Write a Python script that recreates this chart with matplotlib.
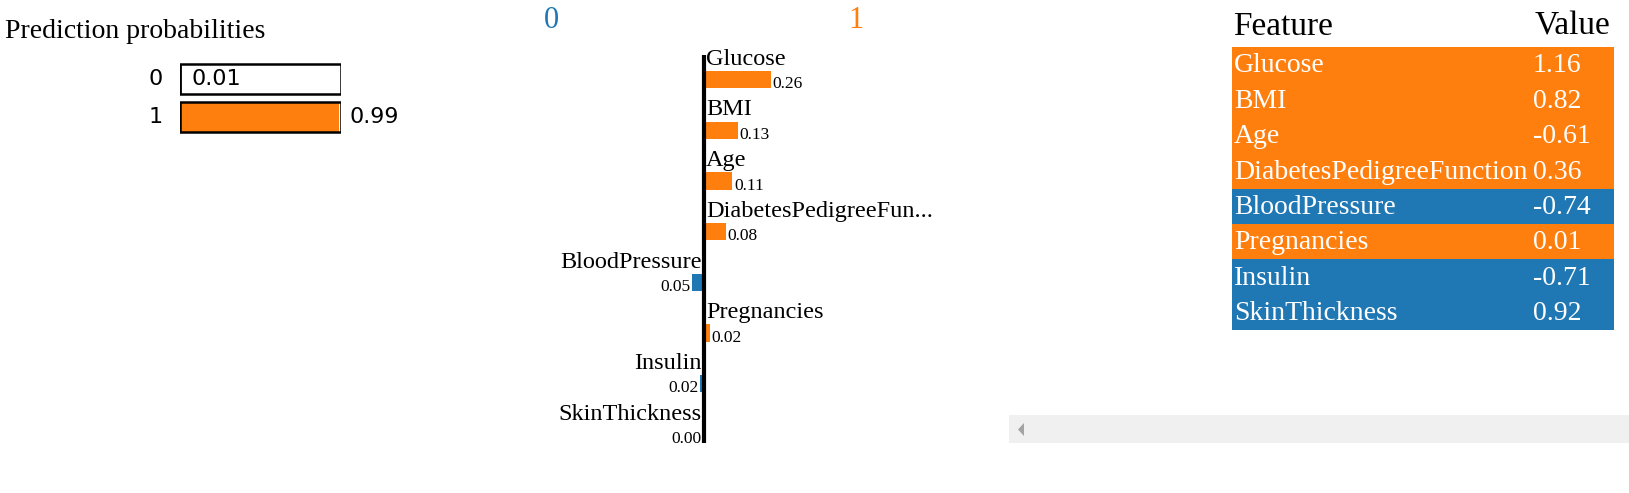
import matplotlib
matplotlib.use("Agg")
import matplotlib.pyplot as plt
from matplotlib.patches import Polygon

# prediction probabilities
classes = ["0", "1"]
probs = [0.01, 0.99]

# feature contributions (towards class 1)
features = ["Glucose", "BMI", "Age", "DiabetesPedigreeFun...", "BloodPressure",
            "Pregnancies", "Insulin", "SkinThickness"]
weights = [0.26, 0.13, 0.11, 0.084, -0.046, 0.024, -0.016, -0.003]

# feature values table
table_features = ["Glucose", "BMI", "Age", "DiabetesPedigreeFunction", "BloodPressure",
                  "Pregnancies", "Insulin", "SkinThickness"]
table_values = ["1.16", "0.82", "-0.61", "0.36", "-0.74", "0.01", "-0.71", "0.92"]

BLUE = "#1f77b4"
ORANGE = "#ff7f0e"
SERIF = "Liberation Serif"
SANS = "DejaVu Sans"

W, H = 1629, 493
fig = plt.figure(figsize=(W / 100, H / 100), dpi=100)


def box(x0, y0, x1, y1):
    # pixel box -> figure fraction
    return [x0 / W, 1 - y1 / H, (x1 - x0) / W, (y1 - y0) / H]


def clean(ax):
    ax.set_xticks([])
    ax.set_yticks([])
    for s in ax.spines.values():
        s.set_visible(False)
    ax.patch.set_alpha(0)


# ---- prediction probabilities ----
fig.text(5 / W, 1 - 38 / H, "Prediction probabilities", family=SERIF, fontsize=20,
         va="baseline", ha="left")
ax1 = fig.add_axes(box(180, 55, 341, 140))
clean(ax1)
ax1.set_xlim(0, 1)
ax1.set_ylim(1.605, -0.632)
ypos = range(len(classes))
ax1.barh(ypos, probs, height=0.79, color=[BLUE, ORANGE], lw=0)
ax1.barh(ypos, [1] * len(classes), height=0.79, facecolor="none", edgecolor="black", lw=1.8)
for i, (c, p) in enumerate(zip(classes, probs)):
    ax1.text(-0.11, i, c, ha="right", va="center", family=SANS, fontsize=16, clip_on=False)
    ax1.text(p + 0.06, i, f"{p:.2f}", ha="left", va="center", family=SANS, fontsize=16,
             clip_on=False)

# ---- explanation bars ----
ax2 = fig.add_axes(box(520, 0, 960, 470))
clean(ax2)
ax2.set_xlim((520 - 704) / 258, (960 - 704) / 258)
ax2.set_ylim((470 - 79.5) / 50.7, -79.5 / 50.7)
rows = range(len(features))
bar_colors = [ORANGE if w > 0 else BLUE for w in weights]
ax2.barh(rows, weights, height=0.34, color=bar_colors, lw=0)
ax2.plot([0, 0], [-0.48, len(features) - 0.83], color="black", lw=3, solid_capstyle="butt")
for i, (f, w) in enumerate(zip(features, weights)):
    if w > 0:
        ax2.text(0.008, i - 0.29, f, ha="left", va="baseline", family=SERIF, fontsize=17.5)
        ax2.text(w + 0.006, i + 0.17, f"{abs(w):.2f}", ha="left", va="baseline",
                 family=SERIF, fontsize=12.5)
    else:
        ax2.text(-0.008, i - 0.29, f, ha="right", va="baseline", family=SERIF, fontsize=17.5)
        ax2.text(w - 0.006, i + 0.17, f"{abs(w):.2f}", ha="right", va="baseline",
                 family=SERIF, fontsize=12.5)
for c, x, col in zip(classes, [-0.59, 0.59], [BLUE, ORANGE]):
    ax2.text(x, -1.17, c, ha="center", va="center", family=SERIF, fontsize=22, color=col)

# ---- feature value table ----
ax3 = fig.add_axes(box(1232, 47, 1614, 330))
clean(ax3)
n = len(table_features)
ax3.set_xlim(0, 1)
ax3.set_ylim(n, 0)
ax3.barh([i + 0.5 for i in range(n)], [1] * n, height=1.0, color=bar_colors, lw=0)
ax3.text(0.003, -0.34, "Feature", ha="left", va="baseline", family=SERIF, fontsize=24,
         clip_on=False)
ax3.text(0.793, -0.34, "Value", ha="left", va="baseline", family=SERIF, fontsize=24,
         clip_on=False)
for i, (f, v) in enumerate(zip(table_features, table_values)):
    ax3.text(0.005, i + 0.72, f, ha="left", va="baseline", family=SERIF, fontsize=20,
             color="white")
    ax3.text(0.788, i + 0.72, v, ha="left", va="baseline", family=SERIF, fontsize=20,
             color="white")

# ---- scrollbar strip ----
ax4 = fig.add_axes(box(1009, 415, 1629, 443))
ax4.set_xticks([])
ax4.set_yticks([])
for s in ax4.spines.values():
    s.set_visible(False)
ax4.set_facecolor("#f0f0f0")
ax4.set_xlim(0, 620)
ax4.set_ylim(28, 0)
ax4.add_patch(Polygon([[15, 8], [15, 21], [9, 14.5]], closed=True, color="#a3a3a3", lw=0))

fig.savefig("out.png", dpi=100)
